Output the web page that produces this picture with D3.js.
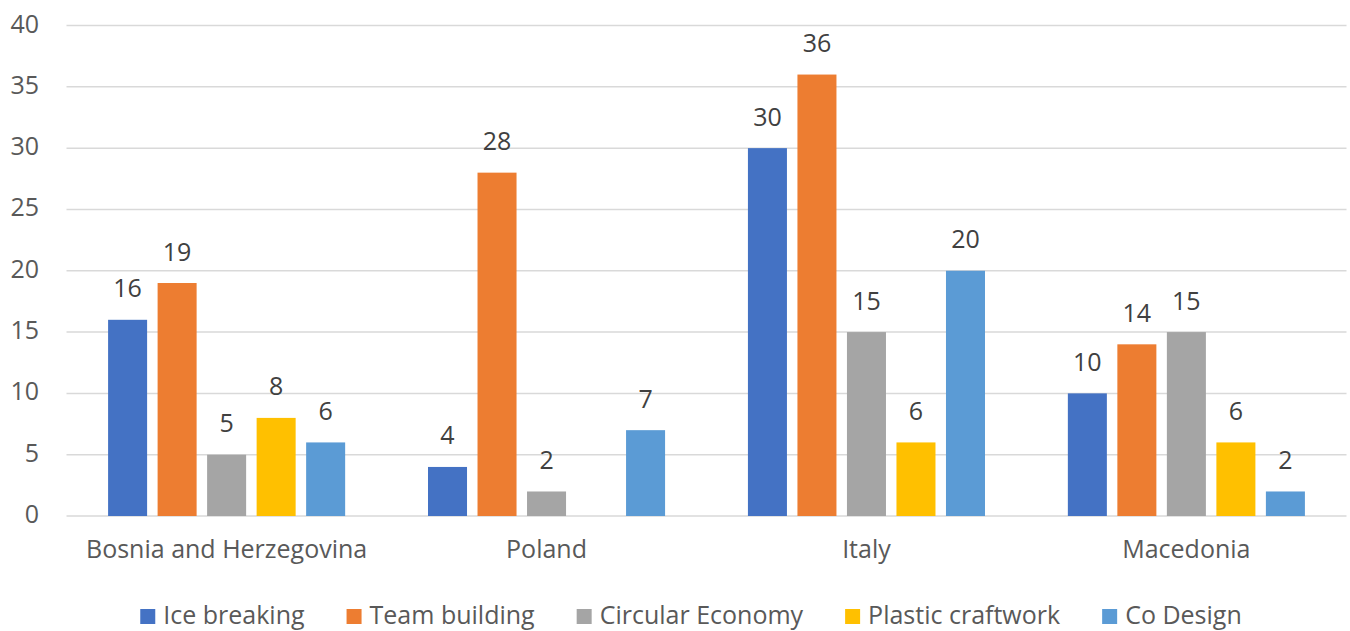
<!DOCTYPE html>
<html>
<head>
<meta charset="utf-8">
<script src="https://cdn.jsdelivr.net/npm/d3@7"></script>
<style>
  html, body { margin: 0; padding: 0; background: #fff; }
  svg { display: block; }
  text { font-family: "Open Sans", "Noto Sans", sans-serif; }
</style>
</head>
<body>
<svg id="chart" width="1350" height="631"></svg>
<script>
const categories = ["Bosnia and Herzegovina", "Poland", "Italy", "Macedonia"];
const seriesNames = ["Ice breaking", "Team building", "Circular Economy", "Plastic craftwork", "Co Design"];
const iceBreaking      = [16, 4, 30, 10];
const teamBuilding     = [19, 28, 36, 14];
const circularEconomy  = [5, 2, 15, 15];
const plasticCraftwork = [8, null, 6, 6];
const coDesign         = [6, 7, 20, 2];
const yTicks = [0, 5, 10, 15, 20, 25, 30, 35, 40];
const colors = ["#4472C4", "#ED7D31", "#A5A5A5", "#FFC000", "#5B9BD5"];

const seriesValues = [iceBreaking, teamBuilding, circularEconomy, plasticCraftwork, coDesign];

const svg = d3.select("#chart");
const plotLeft = 66.5, plotRight = 1346.5, plotTop = 25.5, plotBottom = 516;
const fs = 25;

const y = d3.scaleLinear().domain([0, 40]).range([plotBottom, plotTop]);
const x0 = d3.scaleBand().domain(categories).range([plotLeft, plotRight])
  .paddingInner(0.259).paddingOuter(0.13);
const x1 = d3.scaleBand().domain(seriesNames).range([0, x0.bandwidth()])
  .paddingInner(0.212).paddingOuter(0);

// gridlines
svg.append("g").selectAll("line").data(yTicks).join("line")
  .attr("x1", plotLeft).attr("x2", plotRight)
  .attr("y1", d => y(d)).attr("y2", d => y(d))
  .attr("stroke", "#d9d9d9").attr("stroke-width", 1.5);

// y tick labels
svg.append("g").selectAll("text").data(yTicks).join("text")
  .attr("x", 39).attr("y", d => y(d) + 7)
  .attr("text-anchor", "end")
  .attr("font-size", fs).attr("fill", "#595959")
  .text(d => d);

// bars
const groups = svg.append("g").selectAll("g").data(categories).join("g")
  .attr("transform", c => `translate(${x0(c)},0)`);

groups.each(function(c, ci) {
  const g = d3.select(this);
  const data = seriesNames.map((s, si) => ({ s, si, v: seriesValues[si][ci] }))
    .filter(d => d.v !== null);
  g.selectAll("rect").data(data).join("rect")
    .attr("x", d => x1(d.s)).attr("width", x1.bandwidth())
    .attr("y", d => y(d.v)).attr("height", d => y(0) - y(d.v))
    .attr("fill", d => colors[d.si]);
  g.selectAll("text").data(data).join("text")
    .attr("x", d => x1(d.s) + x1.bandwidth() / 2)
    .attr("y", d => y(d.v) - 22.5)
    .attr("text-anchor", "middle")
    .attr("font-size", fs).attr("fill", "#404040")
    .text(d => d.v);
});

// category labels
svg.append("g").selectAll("text").data(categories).join("text")
  .attr("x", c => x0(c) + x0.bandwidth() / 2)
  .attr("y", 558)
  .attr("text-anchor", "middle")
  .attr("font-size", fs).attr("fill", "#595959")
  .text(c => c);

// legend
const legend = svg.append("g");
let cursor = 0;
seriesNames.forEach((s, i) => {
  const it = legend.append("g");
  it.append("rect").attr("x", 0).attr("y", 609).attr("width", 15).attr("height", 15)
    .attr("fill", colors[i]);
  const t = it.append("text").attr("x", 23).attr("y", 624)
    .attr("font-size", fs).attr("fill", "#595959").text(s);
  const w = 23 + t.node().getComputedTextLength();
  it.attr("transform", `translate(${cursor},0)`);
  cursor += w + 42;
});
const totalW = cursor - 42;
legend.attr("transform", `translate(${691 - totalW / 2},0)`);
</script>
</body>
</html>
